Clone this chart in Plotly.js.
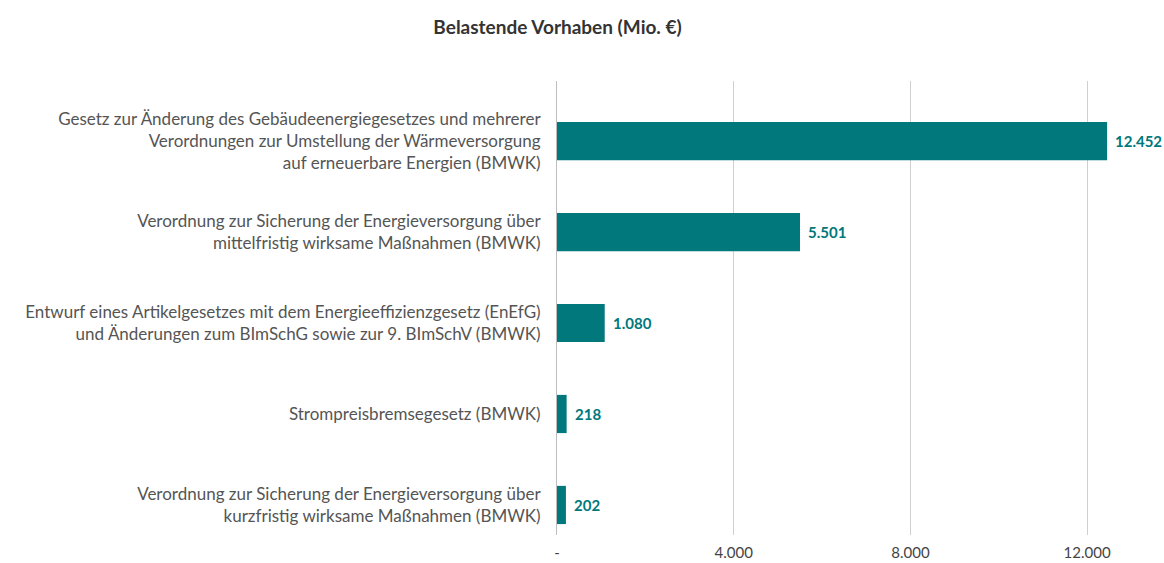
<!DOCTYPE html>
<html>
<head>
<meta charset="utf-8">
<script src="https://cdn.plot.ly/plotly-3.0.1.min.js"></script>
<style>html,body{margin:0;padding:0;background:#fff;}#chart{width:1164px;height:563px;}</style>
</head>
<body>
<div id="chart"></div>
<script>
const categories = [
  "Gesetz zur Änderung des Gebäudeenergiegesetzes und mehrerer<br>Verordnungen zur Umstellung der Wärmeversorgung<br>auf erneuerbare Energien (BMWK)",
  "Verordnung zur Sicherung der Energieversorgung über<br>mittelfristig wirksame Maßnahmen (BMWK)",
  "Entwurf eines Artikelgesetzes mit dem Energieeffizienzgesetz (EnEfG)<br>und Änderungen zum BImSchG sowie zur 9. BImSchV (BMWK)",
  "Strompreisbremsegesetz (BMWK)",
  "Verordnung zur Sicherung der Energieversorgung über<br>kurzfristig wirksame Maßnahmen (BMWK)"
];
const values = [12452, 5501, 1080, 218, 202];
const valueLabels = ["12.452", "5.501", "1.080", "218", "202"];
const tickValues = [0, 4000, 8000, 12000];
const tickLabels = ["-", "4.000", "8.000", "12.000"];

const teal = "#00787c";
const FONT = "Lato, 'Noto Sans', sans-serif";

const trace = {
  type: "bar",
  orientation: "h",
  x: values,
  y: categories,
  marker: {color: teal, line: {width: 0}},
  width: 0.42,
  hoverinfo: "skip"
};

const annotations = values.map((v, i) => ({
  x: v, y: categories[i], xref: "x", yref: "y",
  text: "<b>" + valueLabels[i] + "</b>",
  showarrow: false, xanchor: "left", yanchor: "middle", xshift: 6,
  font: {family: FONT, size: 15, color: teal}
}));

const layout = {
  width: 1164, height: 563,
  margin: {l: 557, r: 0, t: 81, b: 28, pad: 0},
  paper_bgcolor: "#fff", plot_bgcolor: "#fff",
  showlegend: false,
  title: {
    text: "<b>Belastende Vorhaben (Mio. €)</b>",
    font: {family: FONT, size: 19, color: "#333"},
    xref: "container", x: 0.479, xanchor: "center",
    yref: "container", y: 0.952, yanchor: "middle"
  },
  xaxis: {
    range: [0, 13740],
    tickvals: tickValues, ticktext: tickLabels,
    showgrid: true, gridcolor: "#d0d0d0", gridwidth: 1,
    zeroline: false, showline: false,
    ticks: "", ticklabelstandoff: 7,
    tickfont: {family: FONT, size: 15, color: "#444"},
    fixedrange: true
  },
  yaxis: {
    type: "category",
    range: [4.33, -0.66],
    showgrid: false, zeroline: false,
    showline: true, linecolor: "#bdbdbd", linewidth: 1,
    ticks: "", ticklabelstandoff: 12,
    tickfont: {family: FONT, size: 17, color: "#555"},
    fixedrange: true
  },
  annotations: annotations,
  bargap: 0.58
};

Plotly.newPlot("chart", [trace], layout, {displayModeBar: false, staticPlot: true});
</script>
</body>
</html>
